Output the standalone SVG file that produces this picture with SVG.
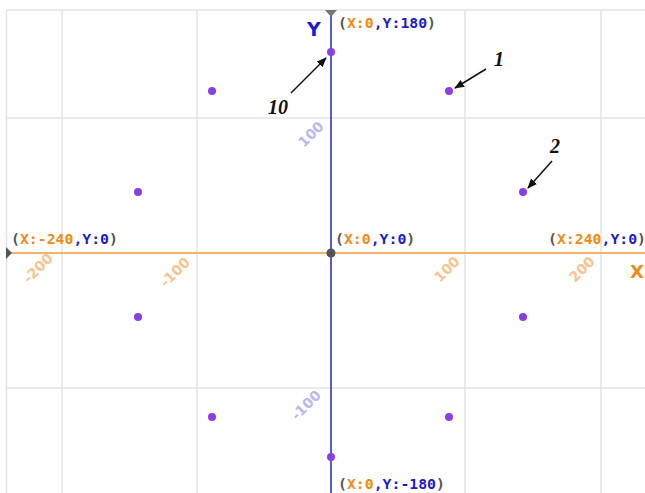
<svg xmlns="http://www.w3.org/2000/svg" width="645" height="493" viewBox="0 0 645 493">
<style>
.grid{stroke:#e3e3e3;stroke-width:1.5;fill:none}
.lbl{font-family:"DejaVu Sans Mono","Liberation Mono",monospace;font-weight:bold;font-size:14.8px}
.p{fill:#555}
.o{fill:#f08a10}
.b{fill:#1c1ccc}
.tx{font-family:"DejaVu Sans","Liberation Sans",sans-serif;font-weight:bold;font-size:14px;fill:#f6c48e}
.ty{font-family:"DejaVu Sans","Liberation Sans",sans-serif;font-weight:bold;font-size:14px;fill:#b8b8f0}
.dot{fill:#8a3ee6}
.num{font-family:"Liberation Serif",serif;font-style:italic;font-weight:bold;font-size:20px;fill:#111}
.arr{stroke:#111;stroke-width:1.5;fill:none;marker-end:url(#ah)}
</style>
<defs>
<marker id="ah" viewBox="0 0 10 10" refX="9" refY="5" markerWidth="10" markerHeight="10" markerUnits="userSpaceOnUse" orient="auto">
<path d="M0,1 L10,5 L0,9 Z" fill="#111"/>
</marker>
</defs>
<rect width="645" height="493" fill="#fff"/>
<g id="grid">
<path class="grid" d="M6.5,10 H645 M6.5,118 H645 M6.5,388 H645 M6.5,10 V493 M62,10 V493 M197,10 V493 M465,10 V493 M601,10 V493"/>
</g>
<g id="axes">
<line x1="6" y1="253" x2="645" y2="253" stroke="#f59a3a" stroke-width="1.5"/>
<line x1="331" y1="10" x2="331" y2="493" stroke="#2222cc" stroke-width="1.5"/>
<path d="M325,10 L337,10 L331,17 Z" fill="#777"/>
<path d="M6,247 L6,259 L12,253 Z" fill="#555"/>
<circle cx="331" cy="253" r="4.5" fill="#555"/>
<text x="307" y="36" font-family="DejaVu Sans,Liberation Sans,sans-serif" font-weight="bold" font-size="19" fill="#1c1ccc">Y</text>
<text x="630" y="278" font-family="DejaVu Sans,Liberation Sans,sans-serif" font-weight="bold" font-size="18" fill="#f08a10">X</text>
</g>
<g id="ticks">
<text class="tx" transform="translate(29,284) rotate(-45)">-200</text>
<text class="tx" transform="translate(166,288) rotate(-45)">-100</text>
<text class="tx" transform="translate(440,283) rotate(-45)">100</text>
<text class="tx" transform="translate(575,283) rotate(-45)">200</text>
<text class="ty" transform="translate(304,148) rotate(-45)">100</text>
<text class="ty" transform="translate(297,421) rotate(-45)">-100</text>
</g>
<g id="coords">
<text class="lbl" x="338" y="28"><tspan class="p">(</tspan><tspan class="o">X:0</tspan><tspan class="b">,Y:180</tspan><tspan class="p">)</tspan></text>
<text class="lbl" x="11" y="244"><tspan class="p">(</tspan><tspan class="o">X:-240</tspan><tspan class="b">,Y:0</tspan><tspan class="p">)</tspan></text>
<text class="lbl" x="335" y="244"><tspan class="p">(</tspan><tspan class="o">X:0</tspan><tspan class="b">,Y:0</tspan><tspan class="p">)</tspan></text>
<text class="lbl" x="548" y="244"><tspan class="p">(</tspan><tspan class="o">X:240</tspan><tspan class="b">,Y:0</tspan><tspan class="p">)</tspan></text>
<text class="lbl" x="338" y="489"><tspan class="p">(</tspan><tspan class="o">X:0</tspan><tspan class="b">,Y:-180</tspan><tspan class="p">)</tspan></text>
</g>
<g id="points">
<circle class="dot" cx="331" cy="52" r="4"/>
<circle class="dot" cx="449" cy="91" r="4"/>
<circle class="dot" cx="523" cy="192" r="4"/>
<circle class="dot" cx="523" cy="317" r="4"/>
<circle class="dot" cx="449" cy="417" r="4"/>
<circle class="dot" cx="331" cy="457" r="4"/>
<circle class="dot" cx="212" cy="417" r="4"/>
<circle class="dot" cx="138" cy="317" r="4"/>
<circle class="dot" cx="138" cy="192" r="4"/>
<circle class="dot" cx="212" cy="91" r="4"/>
</g>
<g id="connectors">
<line class="arr" x1="486" y1="69" x2="455" y2="88"/>
<line class="arr" x1="552" y1="161" x2="528" y2="188"/>
<line class="arr" x1="291" y1="93" x2="326" y2="58"/>
</g>
<g id="labels">
<text class="num" x="494" y="66">1</text>
<text class="num" x="550" y="153">2</text>
<text class="num" x="268" y="114">10</text>
</g>
</svg>
